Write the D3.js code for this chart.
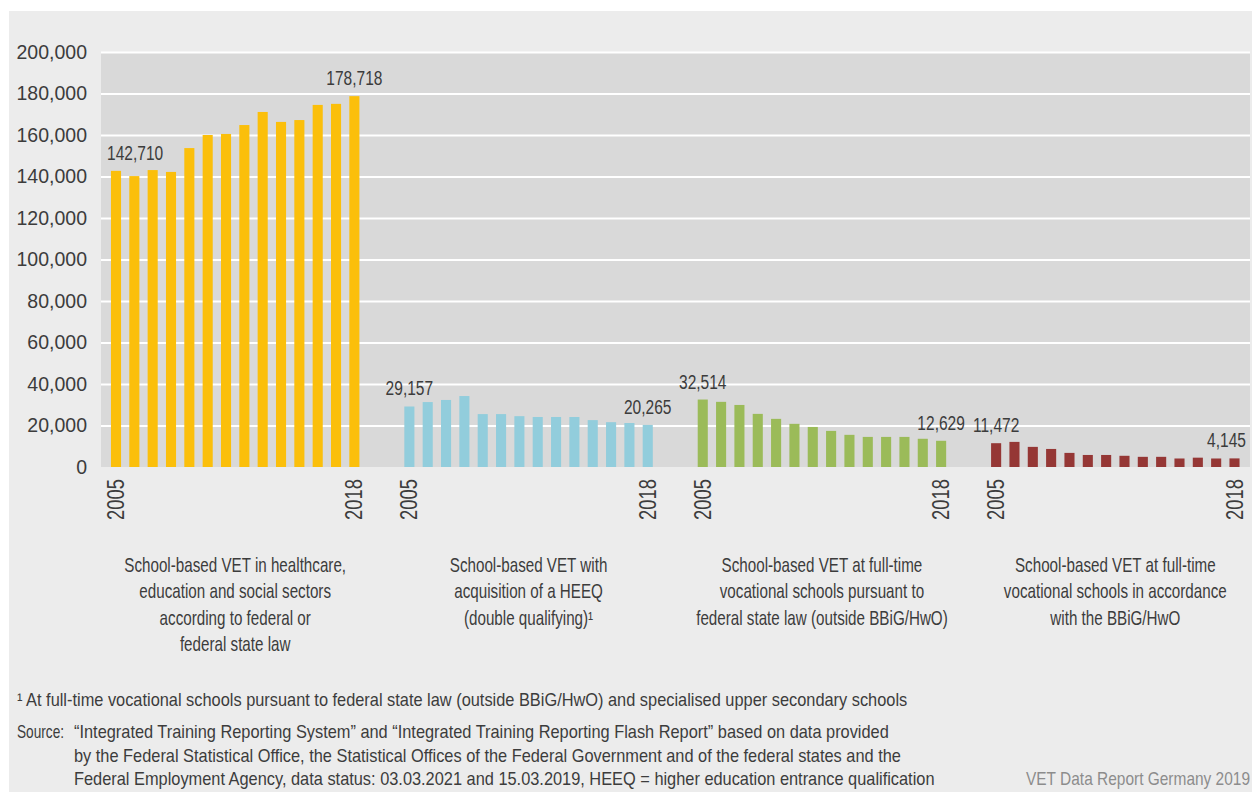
<!DOCTYPE html>
<html>
<head>
<meta charset="utf-8">
<script src="https://cdn.jsdelivr.net/npm/d3@7"></script>
<style>
  body { margin: 0; background: #fff; }
  svg { display: block; font-family: "Liberation Sans", Arial, sans-serif; }
</style>
</head>
<body>
<svg id="chart" width="1252" height="792"></svg>
<script>
/* ===== Data ===== */
const years = [2005, 2006, 2007, 2008, 2009, 2010, 2011, 2012, 2013, 2014, 2015, 2016, 2017, 2018];

const groupKeys = ['health', 'heeq', 'state', 'bbig'];

const groupLabels = [
    ['School-based VET in healthcare,', 'education and social sectors', 'according to federal or', 'federal state law'],
    ['School-based VET with', 'acquisition of a HEEQ', '(double qualifying)¹'],
    ['School-based VET at full-time', 'vocational schools pursuant to', 'federal state law (outside BBiG/HwO)'],
    ['School-based VET at full-time', 'vocational schools in accordance', 'with the BBiG/HwO']
];

const healthValues = [142710, 140200, 143100, 142200, 153700, 160000, 160500, 164800, 171100, 166300, 167200, 174500, 175000, 178718];
const heeqValues   = [29157, 31300, 32300, 34200, 25500, 25500, 24500, 24100, 24100, 24100, 22600, 21600, 21200, 20265];
const stateValues  = [32514, 31400, 29900, 25600, 23200, 20800, 19300, 17400, 15500, 14500, 14500, 14500, 13600, 12629];
const bbigValues   = [11472, 12100, 9700, 8700, 6800, 5800, 5800, 5400, 4900, 4900, 4100, 4500, 4100, 4145];

const groupColors = ['#fbbf0b', '#92cddc', '#9bbb59', '#953735'];

const yTicks = [0, 20000, 40000, 60000, 80000, 100000, 120000, 140000, 160000, 180000, 200000];

const footnote = '¹ At full-time vocational schools pursuant to federal state law (outside BBiG/HwO) and specialised upper secondary schools';
const sourceLines = [
    '“Integrated Training Reporting System” and “Integrated Training Reporting Flash Report” based on data provided',
    'by the Federal Statistical Office, the Statistical Offices of the Federal Government and of the federal states and the',
    'Federal Employment Agency, data status: 03.03.2021 and 15.03.2019, HEEQ = higher education entrance qualification'
];
const credit = 'VET Data Report Germany 2019';

const series = [healthValues, heeqValues, stateValues, bbigValues];

/* ===== Layout ===== */
const plot = { left: 101, right: 1250, top: 52, bottom: 467 };
const textColor = '#3c3c3c';
const fmt = d3.format(',');

// condensed look: the original uses a narrow typeface, squeeze Liberation Sans
const squeeze = { value: 0.74, cat: 0.76, foot: 0.91, source: 0.76, credit: 0.86, year: 0.8 };

const svg = d3.select('#chart');

svg.append('rect')
    .attr('x', 9).attr('y', 11)
    .attr('width', 1252 - 9).attr('height', 792 - 11)
    .attr('fill', '#ececec');

svg.append('rect')
    .attr('x', plot.left).attr('y', plot.top)
    .attr('width', plot.right - plot.left).attr('height', plot.bottom - plot.top)
    .attr('fill', '#d9d9d9');

const y = d3.scaleLinear()
    .domain([0, 200000])
    .range([plot.bottom, plot.top]);

// each group = 14 bars + 2 empty slots
const x0 = d3.scaleBand()
    .domain(groupKeys)
    .range([plot.left - 12.5, plot.right + 12]);

const x1 = d3.scaleBand()
    .domain(years)
    .range([0, x0.bandwidth()])
    .paddingInner(0.45)
    .paddingOuter(1.225);

/* ===== Y axis + grid ===== */
const yAxis = svg.append('g')
    .attr('transform', `translate(${plot.left},0)`)
    .call(d3.axisLeft(y)
        .tickValues(yTicks)
        .tickSize(-(plot.right - plot.left))
        .tickPadding(14)
        .tickFormat(fmt));

yAxis.select('.domain').remove();
yAxis.selectAll('.tick line')
    .attr('stroke', '#fff')
    .attr('stroke-width', 2)
    .attr('display', d => d === 0 ? 'none' : null);
yAxis.selectAll('.tick text')
    .attr('fill', textColor)
    .attr('font-size', 19.5)
    .attr('font-family', '"Liberation Sans", Arial, sans-serif');

/* ===== Bars ===== */
const groups = svg.selectAll('.group')
    .data(groupKeys)
    .enter().append('g')
    .attr('class', 'group')
    .attr('transform', d => `translate(${x0(d)},0)`);

groups.selectAll('rect')
    .data((d, gi) => series[gi].map((v, i) => ({ year: years[i], value: v, gi: gi })))
    .enter().append('rect')
    .attr('x', d => x1(d.year))
    .attr('width', x1.bandwidth())
    .attr('y', d => y(d.value))
    .attr('height', d => y(0) - y(d.value))
    .attr('fill', d => groupColors[d.gi]);

/* ===== Value labels (first + last year) ===== */
const labelData = [];
series.forEach((vals, gi) => {
    [0, vals.length - 1].forEach(i => {
        labelData.push({ gi: gi, year: years[i], value: vals[i] });
    });
});

const valueLabels = svg.selectAll('.value-label')
    .data(labelData)
    .enter().append('text')
    .attr('class', 'value-label')
    .attr('text-anchor', 'middle')
    .attr('font-size', 21)
    .attr('fill', textColor)
    .text(d => fmt(d.value));

// keep labels inside the plot area
valueLabels.each(function(d) {
    const w = this.getComputedTextLength() * squeeze.value;
    let cx = x0(groupKeys[d.gi]) + x1(d.year) + x1.bandwidth() / 2;
    cx = Math.max(cx, plot.left + 6 + w / 2);
    cx = Math.min(cx, plot.right - 4 - w / 2);
    d3.select(this).attr('transform',
        `translate(${cx},${y(d.value) - 11}) scale(${squeeze.value},1)`);
});

/* ===== Year ticks ===== */
svg.selectAll('.year-label')
    .data(labelData)
    .enter().append('text')
    .attr('class', 'year-label')
    .attr('text-anchor', 'end')
    .attr('dy', '0.35em')
    .attr('font-size', 23)
    .attr('fill', textColor)
    .attr('transform', d => {
        const cx = x0(groupKeys[d.gi]) + x1(d.year) + x1.bandwidth() / 2;
        return `translate(${cx},${plot.bottom + 12}) rotate(-90) scale(${squeeze.year},1)`;
    })
    .text(d => d.year);

/* ===== Category labels ===== */
svg.selectAll('.cat-label')
    .data(groupKeys)
    .enter().append('text')
    .attr('class', 'cat-label')
    .attr('text-anchor', 'middle')
    .attr('font-size', 20)
    .attr('fill', textColor)
    .attr('transform', d => `translate(${x0(d) + x0.bandwidth() / 2},572) scale(${squeeze.cat},1)`)
    .selectAll('tspan')
    .data((d, gi) => groupLabels[gi])
    .enter().append('tspan')
    .attr('x', 0)
    .attr('dy', (d, i) => i === 0 ? 0 : 26.5)
    .text(d => d);

/* ===== Footnote / source ===== */
svg.append('text')
    .attr('transform', `translate(17,706) scale(${squeeze.foot},1)`)
    .attr('font-size', 18)
    .attr('fill', textColor)
    .text(footnote);

svg.append('text')
    .attr('transform', `translate(17,738) scale(${squeeze.source},1)`)
    .attr('font-size', 18)
    .attr('fill', textColor)
    .text('Source:');

svg.selectAll('.source-line')
    .data(sourceLines)
    .enter().append('text')
    .attr('class', 'source-line')
    .attr('transform', (d, i) => `translate(74,${738 + i * 23.6}) scale(${squeeze.foot},1)`)
    .attr('font-size', 18)
    .attr('fill', textColor)
    .text(d => d);

svg.append('text')
    .attr('transform', `translate(1250,785) scale(${squeeze.credit},1)`)
    .attr('text-anchor', 'end')
    .attr('font-size', 18)
    .attr('fill', '#8c8c8c')
    .text(credit);
</script>
</body>
</html>
